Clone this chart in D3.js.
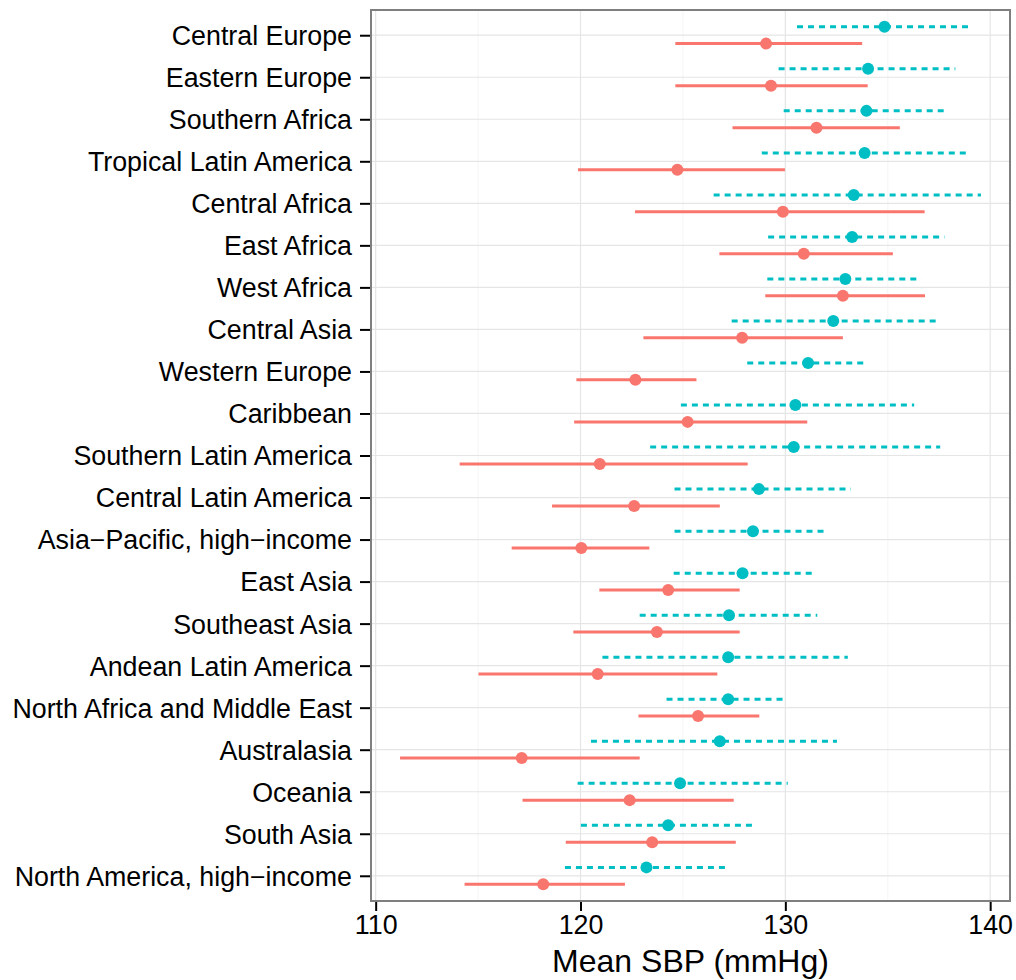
<!DOCTYPE html>
<html>
<head>
<meta charset="utf-8">
<script src="https://cdn.jsdelivr.net/npm/d3@7"></script>
<style>
  body { margin: 0; background: #fff; }
  svg text { font-family: "Liberation Sans", Arial, Helvetica, sans-serif; }
</style>
</head>
<body>
<div id="chart"></div>
<script>
// regions, top to bottom
var regions = ["Central Europe", "Eastern Europe", "Southern Africa", "Tropical Latin America",
  "Central Africa", "East Africa", "West Africa", "Central Asia", "Western Europe", "Caribbean",
  "Southern Latin America", "Central Latin America", "Asia\u2212Pacific, high\u2212income", "East Asia",
  "Southeast Asia", "Andean Latin America", "North Africa and Middle East", "Australasia",
  "Oceania", "South Asia", "North America, high\u2212income"];

// red series (solid)
var redMean = [129.06, 129.30, 131.52, 124.73, 129.88, 130.90, 132.81, 127.89, 122.68, 125.23,
  120.94, 122.62, 120.04, 124.28, 123.73, 120.84, 125.74, 117.13, 122.40, 123.50, 118.18];
var redLow = [124.63, 124.63, 127.42, 119.88, 122.66, 126.78, 129.02, 123.07, 119.80, 119.69,
  114.10, 118.61, 116.64, 120.92, 119.65, 115.02, 122.83, 111.19, 117.17, 119.28, 114.34];
var redHigh = [133.75, 134.02, 135.59, 129.98, 136.80, 135.25, 136.82, 132.81, 125.66, 131.07,
  128.16, 126.80, 123.36, 127.77, 127.77, 126.68, 128.73, 122.89, 127.48, 127.58, 122.17];

// cyan series (dashed)
var cyanMean = [134.84, 134.04, 133.96, 133.87, 133.34, 133.26, 132.93, 132.34, 131.11, 130.49,
  130.41, 128.71, 128.42, 127.91, 127.25, 127.21, 127.21, 126.80, 124.86, 124.28, 123.22];
var cyanLow = [130.57, 129.67, 129.92, 128.85, 126.50, 129.16, 129.12, 127.38, 128.14, 124.90,
  123.40, 124.59, 124.59, 124.55, 122.89, 121.07, 124.20, 120.51, 119.86, 120.02, 119.24];
var cyanHigh = [139.14, 138.30, 137.81, 138.99, 139.55, 137.77, 136.64, 137.46, 133.96, 136.29,
  137.56, 133.20, 131.97, 131.35, 131.56, 133.05, 130.06, 132.52, 130.12, 128.44, 127.13];

var xTicks = [110, 120, 130, 140];
var xMinor = [115, 125, 135];

var width = 1016, height = 980;
var pLeft = 371, pRight = 1010, pTop = 10, pBottom = 901;

var svg = d3.select("#chart").append("svg")
  .attr("width", width)
  .attr("height", height);

// x domain with ggplot-style 5% expansion
var lo = d3.min(redLow.concat(cyanLow)), hi = d3.max(redHigh.concat(cyanHigh));
var pad = (hi - lo) * 0.05;
var x = d3.scaleLinear().domain([lo - pad, hi + pad]).range([pLeft, pRight]);

var y = d3.scalePoint().domain(regions).range([pTop, pBottom]).padding(0.6);
var dodge = y.step() * 0.2;

// grid
svg.append("g").selectAll("line").data(xMinor).enter().append("line")
  .attr("x1", d => x(d)).attr("x2", d => x(d))
  .attr("y1", pTop).attr("y2", pBottom)
  .style("stroke", "#f7f7f7").style("stroke-width", 1.2);

svg.append("g").selectAll("line").data(xTicks).enter().append("line")
  .attr("x1", d => x(d)).attr("x2", d => x(d))
  .attr("y1", pTop).attr("y2", pBottom)
  .style("stroke", "#e5e5e5").style("stroke-width", 1.2);

svg.append("g").selectAll("line").data(regions).enter().append("line")
  .attr("x1", pLeft).attr("x2", pRight)
  .attr("y1", d => y(d)).attr("y2", d => y(d))
  .style("stroke", "#e5e5e5").style("stroke-width", 1.2);

// series
function drawSeries(mean, low, high, colour, dy, dash) {
  var g = svg.append("g");
  g.selectAll("line").data(regions).enter().append("line")
    .attr("x1", (d, i) => x(low[i]))
    .attr("x2", (d, i) => x(high[i]))
    .attr("y1", d => y(d) + dy)
    .attr("y2", d => y(d) + dy)
    .style("stroke", colour)
    .style("stroke-width", 3)
    .style("stroke-dasharray", dash);
  g.selectAll("circle").data(regions).enter().append("circle")
    .attr("cx", (d, i) => x(mean[i]))
    .attr("cy", d => y(d) + dy)
    .attr("r", 6)
    .style("fill", colour);
}
drawSeries(redMean, redLow, redHigh, "#F8766D", dodge, null);
drawSeries(cyanMean, cyanLow, cyanHigh, "#00BFC4", -dodge, "6,5");

// panel border
svg.append("rect")
  .attr("x", pLeft).attr("y", pTop)
  .attr("width", pRight - pLeft).attr("height", pBottom - pTop)
  .style("fill", "none").style("stroke", "#7f7f7f").style("stroke-width", 2);

// axes
var xAxis = svg.append("g")
  .attr("transform", "translate(0," + (pBottom + 1) + ")")
  .call(d3.axisBottom(x).tickValues(xTicks).tickSize(9).tickPadding(4).tickFormat(d3.format("d")));
var yAxis = svg.append("g")
  .attr("transform", "translate(" + (pLeft - 1) + ",0)")
  .call(d3.axisLeft(y).tickSize(10).tickPadding(8));

[xAxis, yAxis].forEach(function(a) {
  a.select(".domain").remove();
  a.selectAll(".tick line").style("stroke", "#000").style("stroke-width", 2);
  a.selectAll(".tick text").style("fill", "#000").style("font-size", "26.8px");
});
yAxis.selectAll(".tick text").attr("dy", "0.35em");

svg.append("text")
  .attr("x", (pLeft + pRight) / 2)
  .attr("y", 972)
  .attr("text-anchor", "middle")
  .style("font-size", "32px")
  .text("Mean SBP (mmHg)");
</script>
</body>
</html>
